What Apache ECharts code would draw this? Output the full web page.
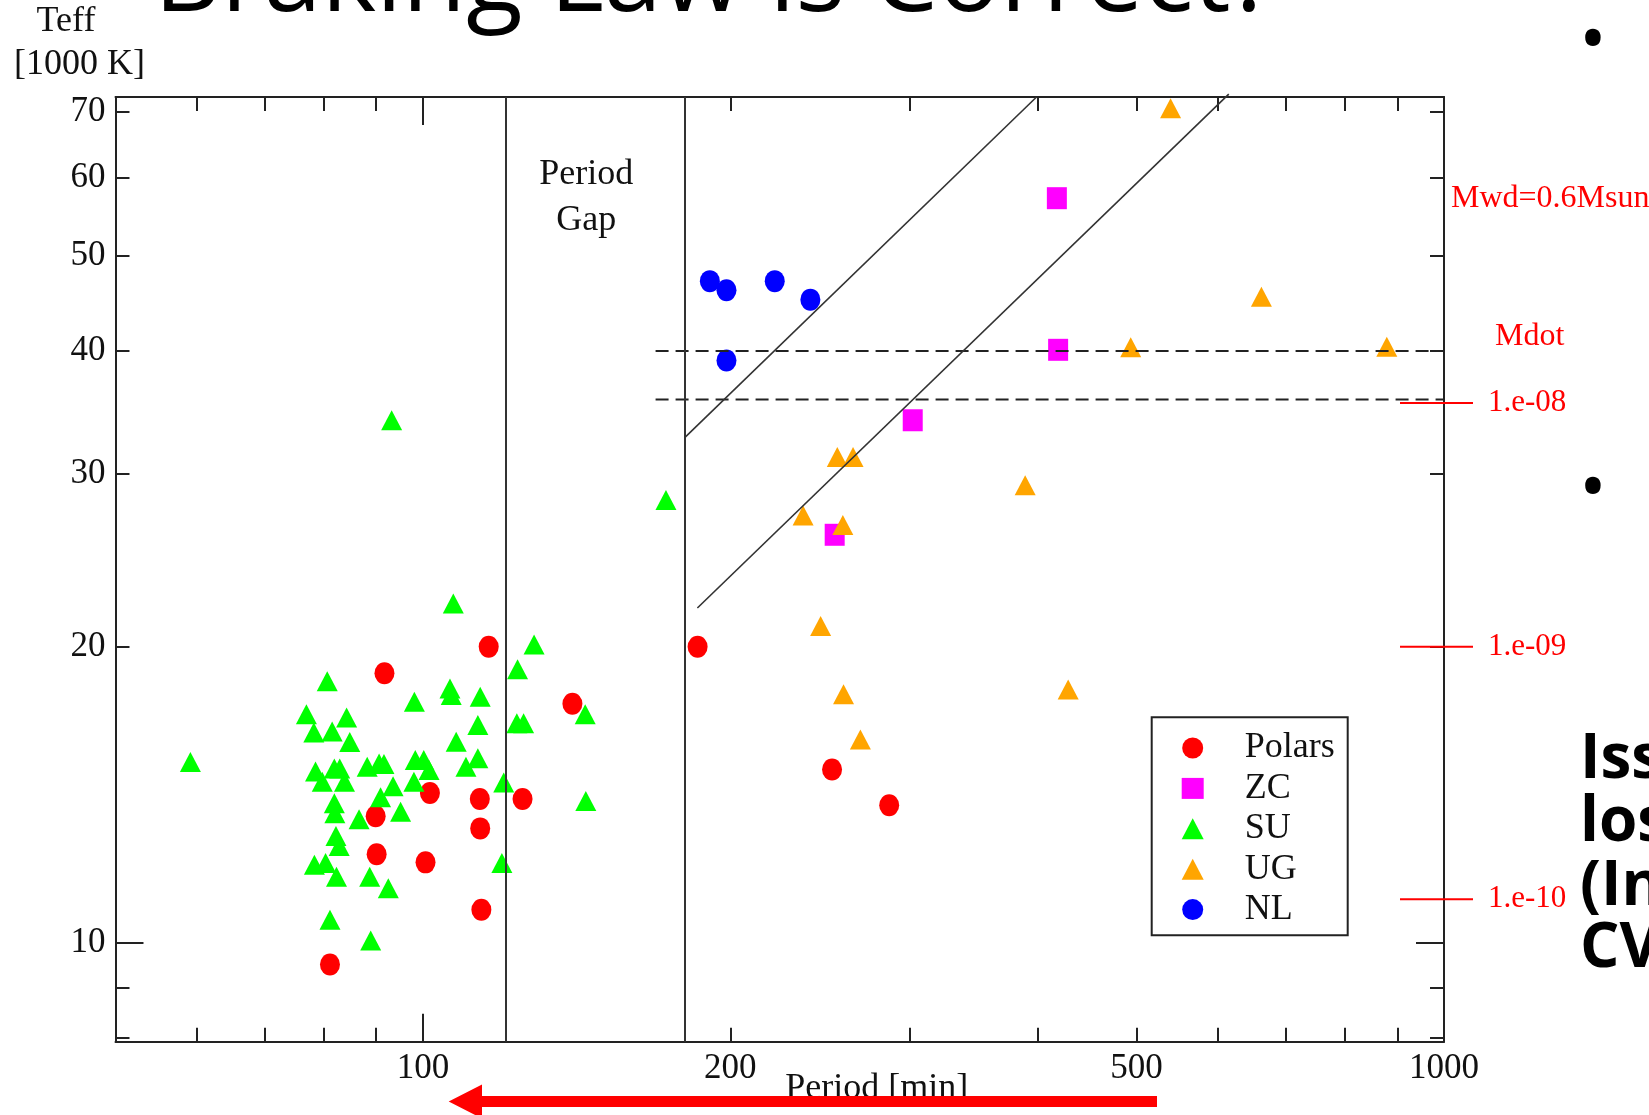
<!DOCTYPE html>
<html>
<head>
<meta charset="utf-8">
<script src="https://cdn.jsdelivr.net/npm/echarts@6/dist/echarts.min.js"></script>
<style>
html, body { margin: 0; padding: 0; background: #fff; }
#chart { width: 1649px; height: 1115px; }
</style>
</head>
<body>
<div id="chart"></div>
<script>
// values (period in min, Teff in 1000 K)
const polarsPeriod = [116.0, 91.7, 140.1, 101.6, 113.7, 125.2, 89.9, 113.8, 90.1, 100.6, 114.1, 81.1, 185.8, 251.6, 286.2];
const polarsTeff = [20.0, 18.8, 17.5, 14.2, 14.0, 14.0, 13.45, 13.07, 12.3, 12.07, 10.8, 9.5, 20.0, 15.0, 13.8];

const zcPeriod = [417.7, 418.9, 301.8, 253.1];
const zcTeff = [57.2, 40.1, 34.0, 26.0];

const suPeriod = [59.2, 76.9, 78.2, 80.6, 81.5, 84.2, 84.8, 78.5, 81.9, 82.9, 79.7, 83.8, 81.9, 82.0, 86.6,
  82.2, 82.8, 78.3, 80.3, 82.3, 88.7, 92.5, 81.1, 88.9, 88.2, 90.6, 91.6, 93.5, 90.9, 95.1, 98.0, 98.1,
  98.3, 100.2, 101.4, 106.3, 106.6, 107.1, 107.8, 110.2, 113.2, 113.2, 113.8, 120.0, 119.5, 123.8, 123.6,
  125.5, 128.5, 144.2, 144.4, 93.2, 173.0];
const suTeff = [15.27, 17.08, 16.36, 18.45, 16.40, 16.95, 16.00, 14.93, 15.04, 15.04, 14.58, 14.58, 13.86, 13.54, 13.35,
  12.84, 12.54, 12.0, 12.05, 11.67, 11.67, 11.36, 10.55, 10.05, 15.10, 15.22, 15.20, 14.43, 14.06, 13.59, 14.58, 17.58,
  15.34, 15.34, 14.99, 18.14, 17.86, 22.14, 16.01, 15.10, 15.40, 16.65, 17.79, 14.55, 12.05, 18.97, 16.72,
  16.72, 20.11, 17.08, 13.94, 34.0, 28.2];

const ugPeriod = [493.4, 254.6, 263.8, 388.9, 235.7, 257.8, 245.2, 258.2, 268.2, 428.5, 539.8, 662.5, 879.0];
const ugTeff = [40.35, 31.2, 31.2, 29.2, 27.2, 26.6, 21.0, 17.9, 16.1, 18.1, 70.6, 45.4, 40.4];

const nlPeriod = [191.0, 198.3, 221.1, 239.6, 198.3];
const nlTeff = [47.1, 46.1, 47.1, 45.1, 39.1];

// period gap edges and guide lines
const gapPeriods = [120.5, 180.6];
const dashedTeff = [40.0, 35.7];
const dashedPeriods = [169, 1000];
const diagA = [[180.8, 32.7], [399, 72.5]];
const diagB = [[185.7, 21.9], [615.5, 73.0]];

// Mdot scale on the right
const mdotLabels = ['1.e-08', '1.e-09', '1.e-10'];
const mdotTeff = [35.4, 20.0, 11.07];

// axes
const periodMin = 50, periodMax = 1000;
const teffMin = 7.93, teffMax = 72.5;
const periodMinorTicks = [60, 70, 80, 90, 200, 300, 400, 500, 600, 700, 800, 900];
const periodMajorTicks = [100];
const periodLabels = [100, 200, 500, 1000];
const teffMinorTicks = [8, 9, 20, 30, 40, 50, 60, 70];
const teffMajorTicks = [10];
const teffLabels = [10, 20, 30, 40, 50, 60, 70];

const serif = '"Liberation Serif", "Times New Roman", serif';
const sans = '"Open Sans", sans-serif';
const ink = '#222';

function pairs(xs, ys) {
  return xs.map((x, i) => [x, ys[i]]);
}

// value axis in log10 space, used only to draw ticks and labels
function tickAxis(min, max, position, ticks, len, labels, showLine) {
  return {
    type: 'value',
    position: position,
    min: Math.log10(min),
    max: Math.log10(max),
    axisLine: { show: !!showLine, onZero: false, lineStyle: { color: ink, width: 2 } },
    axisTick: {
      show: true, inside: true, length: len,
      customValues: ticks.map(v => Math.log10(v)),
      lineStyle: { color: ink, width: 2 }
    },
    axisLabel: labels ? {
      show: true,
      customValues: labels.map(v => Math.log10(v)),
      formatter: v => String(Math.round(Math.pow(10, v))),
      margin: 10,
      fontFamily: serif,
      fontSize: 35,
      color: '#111'
    } : { show: false },
    splitLine: { show: false }
  };
}

function logAxis(min, max, position) {
  return {
    type: 'log',
    logBase: 10,
    position: position,
    min: min,
    max: max,
    axisLine: { show: true, onZero: false, lineStyle: { color: ink, width: 2 } },
    axisTick: { show: false },
    axisLabel: { show: false },
    splitLine: { show: false }
  };
}

const chart = echarts.init(document.getElementById('chart'));

const xBottomLabels = tickAxis(periodMin, periodMax, 'bottom', periodMinorTicks, 14, periodLabels);
xBottomLabels.name = 'Period [min]';
xBottomLabels.nameLocation = 'middle';
xBottomLabels.nameGap = 29;
xBottomLabels.nameMoveOverlap = false;
xBottomLabels.nameTextStyle = { fontFamily: serif, fontSize: 36, lineHeight: 36, color: '#111', padding: [0, 0, 0, 194] };

const yLeftLabels = tickAxis(teffMin, teffMax, 'left', teffMinorTicks, 14, teffLabels);
yLeftLabels.name = '{a|Teff}\n{b|[1000 K]}';
yLeftLabels.nameLocation = 'end';
yLeftLabels.nameGap = 11;
yLeftLabels.nameMoveOverlap = false;
yLeftLabels.nameTextStyle = {
  fontFamily: serif, fontSize: 36, lineHeight: 43, color: '#111', align: 'center', padding: [0, 83, 0, 0],
  rich: {
    a: { fontFamily: serif, fontSize: 36, lineHeight: 43, color: '#111', padding: [0, 16, 0, 0] },
    b: { fontFamily: serif, fontSize: 36, lineHeight: 43, color: '#111', padding: [0, 0, 0, 11] }
  }
};

const scatterBase = { type: 'scatter', xAxisIndex: 0, yAxisIndex: 0, z: 2, silent: true };

const option = {
  backgroundColor: '#fff',
  animation: false,
  grid: { left: 113.6, top: 96.7, right: 205, bottom: 73.3, containLabel: false },
  xAxis: [
    logAxis(periodMin, periodMax, 'bottom'),
    xBottomLabels,
    tickAxis(periodMin, periodMax, 'bottom', periodMajorTicks, 28, null),
    tickAxis(periodMin, periodMax, 'top', periodMinorTicks, 14, null, true),
    tickAxis(periodMin, periodMax, 'top', periodMajorTicks, 28, null)
  ],
  yAxis: [
    logAxis(teffMin, teffMax, 'left'),
    yLeftLabels,
    tickAxis(teffMin, teffMax, 'left', teffMajorTicks, 28, null),
    tickAxis(teffMin, teffMax, 'right', teffMinorTicks, 14, null, true),
    tickAxis(teffMin, teffMax, 'right', teffMajorTicks, 28, null)
  ],
  legend: {
    orient: 'vertical',
    left: 1151.7,
    top: 717.3,
    padding: [12.7, 13, 7.6, 30],
    itemWidth: 22,
    itemHeight: 21,
    itemGap: 4.4,
    borderColor: ink,
    borderWidth: 2,
    backgroundColor: '#fff',
    selectedMode: false,
    itemStyle: { opacity: 1 },
    textStyle: { fontFamily: serif, fontSize: 36, lineHeight: 30, color: '#111', padding: [0, 0, 0, 36] },
    data: ['Polars', 'ZC', 'SU', 'UG', 'NL']
  },
  series: [
    Object.assign({}, scatterBase, { name: 'Polars', symbol: 'circle', symbolSize: [20, 22], itemStyle: { color: '#ff0000', opacity: 1 }, data: pairs(polarsPeriod, polarsTeff) }),
    Object.assign({}, scatterBase, { name: 'ZC', symbol: 'rect', symbolSize: [20, 22], itemStyle: { color: '#ff00ff', opacity: 1 }, data: pairs(zcPeriod, zcTeff) }),
    Object.assign({}, scatterBase, { name: 'SU', symbol: 'triangle', symbolSize: [21, 20], itemStyle: { color: '#00ff00', opacity: 1 }, data: pairs(suPeriod, suTeff) }),
    Object.assign({}, scatterBase, { name: 'UG', symbol: 'triangle', symbolSize: [21, 20], itemStyle: { color: '#ffa500', opacity: 1 }, data: pairs(ugPeriod, ugTeff) }),
    Object.assign({}, scatterBase, { name: 'NL', symbol: 'circle', symbolSize: [20, 22], itemStyle: { color: '#0000ff', opacity: 1 }, data: pairs(nlPeriod, nlTeff) }),
    {
      type: 'line', xAxisIndex: 0, yAxisIndex: 0, z: 3, silent: true, symbol: 'none',
      lineStyle: { color: ink, width: 2, type: [13, 7] },
      data: dashedPeriods.map(p => [p, dashedTeff[0]]),
      markLine: {
        silent: true, symbol: 'none', animation: false,
        label: { show: false },
        lineStyle: { color: '#333', width: 2, type: 'solid' },
        data: gapPeriods.map(p => ({ xAxis: p }))
      },
      markArea: {
        silent: true,
        itemStyle: { color: 'rgba(0,0,0,0)' },
        label: {
          show: true, position: 'insideTop', distance: 55,
          formatter: 'Period\nGap',
          fontFamily: serif, fontSize: 36, lineHeight: 46, color: '#111', align: 'center',
          padding: [0, 18, 0, 0]
        },
        data: [[{ xAxis: gapPeriods[0] }, { xAxis: gapPeriods[1] }]]
      }
    },
    {
      type: 'line', xAxisIndex: 0, yAxisIndex: 0, z: 3, silent: true, symbol: 'none',
      lineStyle: { color: ink, width: 2, type: [13, 7] },
      data: dashedPeriods.map(p => [p, dashedTeff[1]])
    },
    {
      type: 'line', xAxisIndex: 0, yAxisIndex: 0, z: 3, silent: true, symbol: 'none', clip: false,
      lineStyle: { color: '#333', width: 1.6 },
      data: diagA
    },
    {
      type: 'line', xAxisIndex: 0, yAxisIndex: 0, z: 3, silent: true, symbol: 'none', clip: false,
      lineStyle: { color: '#333', width: 1.6 },
      data: diagB
    },
    {
      type: 'custom', xAxisIndex: 0, yAxisIndex: 0, z: 4, silent: true, clip: false,
      data: mdotTeff.map(t => [periodMax, t]),
      renderItem: function (params, api) {
        const p = api.coord([api.value(0), api.value(1)]);
        return {
          type: 'group',
          children: [
            { type: 'line', shape: { x1: p[0] - 44, y1: p[1], x2: p[0] + 29, y2: p[1] }, style: { stroke: '#ff0000', lineWidth: 2 } },
            {
              type: 'text',
              style: {
                text: mdotLabels[params.dataIndex], x: p[0] + 44, y: p[1],
                verticalAlign: 'middle', align: 'left', fill: '#ff0000',
                fontFamily: serif, fontSize: 31
              }
            }
          ]
        };
      }
    }
  ],
  graphic: [
    { type: 'text', z: 100, x: 1451, y: 199, style: { text: 'Mwd=0.6Msun', fill: '#ff0000', fontFamily: serif, fontSize: 32, verticalAlign: 'middle' } },
    { type: 'text', z: 100, x: 1495, y: 337, style: { text: 'Mdot', fill: '#ff0000', fontFamily: serif, fontSize: 32, verticalAlign: 'middle' } },
    {
      type: 'polygon', z: 100,
      shape: { points: [[448.7, 1101.5], [482, 1084.5], [482, 1096], [1157, 1096], [1157, 1107], [482, 1107], [482, 1118.5]] },
      style: { fill: '#ff0000' }
    },
    { type: 'text', z: 100, x: 154, y: -19, style: { text: 'Braking Law is Correct?', fill: '#000', fontFamily: sans, fontSize: 104, verticalAlign: 'middle' } },
    { type: 'text', z: 100, x: 1593, y: 43, style: { text: '\u2022', fill: '#000', fontFamily: sans, fontSize: 74, align: 'center', verticalAlign: 'middle' } },
    { type: 'text', z: 100, x: 1593, y: 491, style: { text: '\u2022', fill: '#000', fontFamily: sans, fontSize: 74, align: 'center', verticalAlign: 'middle' } },
    { type: 'text', z: 100, x: 1580, y: 760, style: { text: 'Iss', fill: '#000', fontFamily: sans, fontWeight: 'bold', fontSize: 62, verticalAlign: 'middle' } },
    { type: 'text', z: 100, x: 1580, y: 823, style: { text: 'los', fill: '#000', fontFamily: sans, fontWeight: 'bold', fontSize: 62, verticalAlign: 'middle' } },
    { type: 'text', z: 100, x: 1580, y: 887, style: { text: '(In', fill: '#000', fontFamily: sans, fontWeight: 'bold', fontSize: 62, verticalAlign: 'middle' } },
    { type: 'text', z: 100, x: 1580, y: 949, style: { text: 'CV', fill: '#000', fontFamily: sans, fontWeight: 'bold', fontSize: 62, verticalAlign: 'middle' } }
  ]
};

chart.setOption(option);
</script>
</body>
</html>
